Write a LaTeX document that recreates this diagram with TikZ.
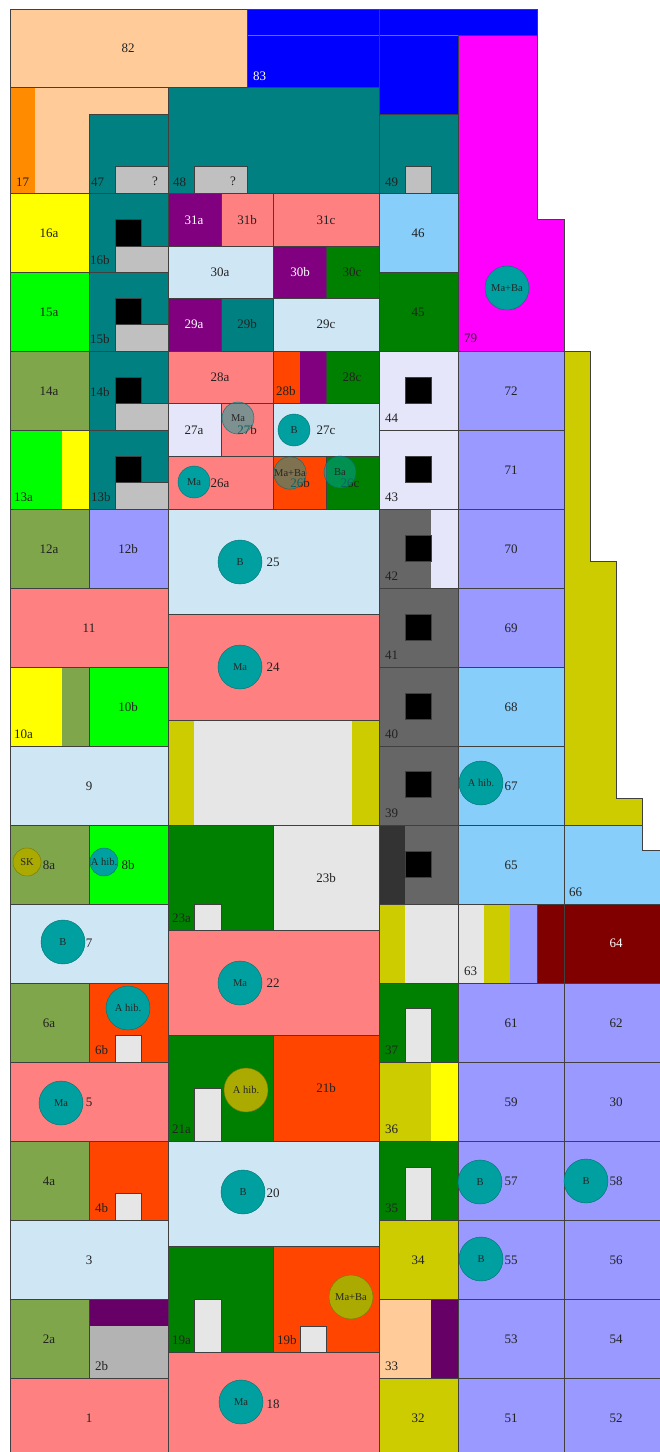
\documentclass[tikz,border=0pt]{standalone}
\usepackage{fontspec}
\setmainfont{Liberation Serif}
\definecolor{peach}{HTML}{FFCC99}
\definecolor{bblue}{HTML}{0000FF}
\definecolor{mag}{HTML}{FF00FF}
\definecolor{teal2}{HTML}{008080}
\definecolor{silv}{HTML}{C0C0C0}
\definecolor{orng}{HTML}{FF8C00}
\definecolor{yel}{HTML}{FFFF00}
\definecolor{lime2}{HTML}{00FF00}
\definecolor{oliv}{HTML}{7FA64A}
\definecolor{purp}{HTML}{800080}
\definecolor{salm}{HTML}{FF8080}
\definecolor{lblue}{HTML}{CFE6F4}
\definecolor{grn}{HTML}{008000}
\definecolor{lav}{HTML}{E6E6FA}
\definecolor{sky}{HTML}{87CEFA}
\definecolor{blav}{HTML}{9999FF}
\definecolor{oyel}{HTML}{CCCC00}
\definecolor{dgray}{HTML}{666666}
\definecolor{ddgray}{HTML}{333333}
\definecolor{lgray}{HTML}{E6E6E6}
\definecolor{ored}{HTML}{FF4500}
\definecolor{dred}{HTML}{800000}
\definecolor{purp2}{HTML}{660066}
\definecolor{mgray}{HTML}{B3B3B3}
\definecolor{cteal}{HTML}{00A0A0}
\definecolor{colv}{HTML}{AAAA00}
\definecolor{ln}{HTML}{404040}
\definecolor{txt}{HTML}{222222}
\newcommand\rr[5]{\filldraw[fill=#5,draw=ln,line width=.5pt] (#1,#2) rectangle (#3,#4);}
\newcommand\ff[5]{\fill[#5] (#1,#2) rectangle (#3,#4);}
\newcommand\ob[4]{\draw[ln,line width=.5pt] (#1,#2) rectangle (#3,#4);}
\begin{document}
\begin{tikzpicture}[x=1pt,y=-1pt,
  lbl/.style={font=\fontsize{13}{13}\selectfont, text=txt, inner sep=0pt},
  bl/.style={lbl, anchor=base west},
  wl/.style={text=white},
  circ/.style={circle, inner sep=0pt, fill=cteal, draw=cteal!70!black, line width=.4pt, text=black!85, font=\fontsize{10.5}{10.5}\selectfont},
  big/.style={minimum size=44pt},
  sml/.style={minimum size=32pt},
  tny/.style={minimum size=28pt},
  ov/.style={fill=colv, draw=colv!70!black},
  half/.style={fill opacity=.5, text opacity=1}
]
\useasboundingbox (0,0) rectangle (660,1452);
\fill[white] (0,0) rectangle (660,1452);

% ---------- top ----------
\rr{10}{9}{247}{87}{peach}
\fill[bblue] (247,9) -- (537,9) -- (537,35) -- (458,35) -- (458,114) -- (379,114) -- (379,87) -- (247,87) -- cycle;
\draw[bblue!60!white, line width=.5pt] (247,35) -- (458,35);
\draw[ln, line width=.5pt] (247,9) -- (537,9) -- (537,35) -- (458,35) -- (458,114) -- (379,114) -- (379,87) -- (247,87) -- cycle;
\draw[ln, line width=.5pt] (379,9) -- (379,87);
\filldraw[fill=mag, draw=ln, line width=.5pt] (458,35) -- (537,35) -- (537,219) -- (564,219) -- (564,351) -- (458,351) -- cycle;
\ff{10}{87}{35}{193}{orng}
\fill[peach] (35,87) -- (168,87) -- (168,114) -- (89,114) -- (89,193) -- (35,193) -- cycle;
\draw[ln, line width=.5pt] (10,87) -- (168,87) -- (168,114) -- (89,114) -- (89,193) -- (10,193) -- cycle;
\rr{89}{114}{168}{193}{teal2}
\rr{115}{166}{168}{193}{silv}
\rr{168}{87}{379}{193}{teal2}
\rr{194}{166}{247}{193}{silv}
\rr{379}{114}{458}{193}{teal2}
\rr{405}{166}{431}{193}{silv}

% ---------- rows 193-351 ----------
\rr{10}{193}{89}{272}{yel}
\rr{89}{193}{168}{272}{teal2}
\rr{115}{219}{141}{246}{black}
\rr{115}{246}{168}{272}{silv}
\rr{168}{193}{221}{246}{purp}
\rr{221}{193}{273}{246}{salm}
\rr{273}{193}{379}{246}{salm}
\rr{168}{246}{273}{298}{lblue}
\rr{273}{246}{326}{298}{purp}
\rr{326}{246}{379}{298}{grn}
\rr{379}{193}{458}{272}{sky}
\rr{10}{272}{89}{351}{lime2}
\rr{89}{272}{168}{351}{teal2}
\rr{115}{298}{141}{324}{black}
\rr{115}{324}{168}{351}{silv}
\rr{168}{298}{221}{351}{purp}
\rr{221}{298}{273}{351}{teal2}
\rr{273}{298}{379}{351}{lblue}
\rr{379}{272}{458}{351}{grn}

% ---------- rows 351-509 ----------
\rr{10}{351}{89}{430}{oliv}
\rr{89}{351}{168}{430}{teal2}
\rr{115}{377}{141}{403}{black}
\rr{115}{403}{168}{430}{silv}
\rr{168}{351}{273}{403}{salm}
\ff{273}{351}{300}{403}{ored}
\ff{300}{351}{326}{403}{purp}
\ob{273}{351}{326}{403}
\rr{326}{351}{379}{403}{grn}
\rr{168}{403}{221}{456}{lav}
\rr{221}{403}{273}{456}{salm}
\rr{273}{403}{379}{456}{lblue}
\rr{379}{351}{458}{430}{lav}
\rr{405}{377}{431}{403}{black}
\rr{458}{351}{564}{430}{blav}
\filldraw[fill=oyel, draw=ln, line width=.5pt] (564,351) -- (590,351) -- (590,561) -- (616,561) -- (616,798) -- (642,798) -- (642,825) -- (564,825) -- cycle;
\ff{10}{430}{62}{509}{lime2}
\ff{62}{430}{89}{509}{yel}
\ob{10}{430}{89}{509}
\rr{89}{430}{168}{509}{teal2}
\rr{115}{456}{141}{482}{black}
\rr{115}{482}{168}{509}{silv}
\rr{168}{456}{273}{509}{salm}
\rr{273}{456}{326}{509}{ored}
\rr{326}{456}{379}{509}{grn}
\rr{379}{430}{458}{509}{lav}
\rr{405}{456}{431}{482}{black}
\rr{458}{430}{564}{509}{blav}

% ---------- rows 509-825 ----------
\rr{10}{509}{89}{588}{oliv}
\rr{89}{509}{168}{588}{blav}
\rr{168}{509}{379}{614}{lblue}
\ff{379}{509}{431}{588}{dgray}
\ff{431}{509}{458}{588}{lav}
\ob{379}{509}{458}{588}
\rr{405}{535}{431}{561}{black}
\rr{458}{509}{564}{588}{blav}
\rr{10}{588}{168}{667}{salm}
\rr{168}{614}{379}{720}{salm}
\rr{379}{588}{458}{667}{dgray}
\rr{405}{614}{431}{640}{black}
\rr{458}{588}{564}{667}{blav}
\ff{10}{667}{62}{746}{yel}
\ff{62}{667}{89}{746}{oliv}
\ob{10}{667}{89}{746}
\rr{89}{667}{168}{746}{lime2}
\ff{168}{720}{194}{825}{oyel}
\ff{194}{720}{352}{825}{lgray}
\ff{352}{720}{379}{825}{oyel}
\ob{168}{720}{379}{825}
\rr{379}{667}{458}{746}{dgray}
\rr{405}{693}{431}{719}{black}
\rr{458}{667}{564}{746}{sky}
\rr{10}{746}{168}{825}{lblue}
\rr{379}{746}{458}{825}{dgray}
\rr{405}{771}{431}{797}{black}
\rr{458}{746}{564}{825}{sky}

% ---------- rows 825-1062 ----------
\rr{10}{825}{89}{904}{oliv}
\rr{89}{825}{168}{904}{lime2}
\rr{168}{825}{273}{930}{grn}
\rr{194}{904}{221}{930}{lgray}
\rr{273}{825}{379}{930}{lgray}
\ff{379}{825}{405}{904}{ddgray}
\ff{405}{825}{458}{904}{dgray}
\ob{379}{825}{458}{904}
\rr{405}{851}{431}{877}{black}
\rr{458}{825}{564}{904}{sky}
\filldraw[fill=sky, draw=ln, line width=.5pt] (564,825) -- (642,825) -- (642,850) -- (670,850) -- (670,904) -- (564,904) -- cycle;
\rr{10}{904}{168}{983}{lblue}
\rr{168}{930}{379}{1035}{salm}
\ff{379}{904}{405}{983}{oyel}
\ff{405}{904}{458}{983}{lgray}
\ob{379}{904}{458}{983}
\ff{458}{904}{484}{983}{lgray}
\ff{484}{904}{510}{983}{oyel}
\ff{510}{904}{537}{983}{blav}
\ob{458}{904}{537}{983}
\rr{537}{904}{564}{983}{dred}
\rr{564}{904}{670}{983}{dred}
\rr{10}{983}{89}{1062}{oliv}
\rr{89}{983}{168}{1062}{ored}
\rr{115}{1035}{141}{1062}{lgray}
\rr{379}{983}{458}{1062}{grn}
\rr{405}{1008}{431}{1062}{lgray}
\rr{458}{983}{564}{1062}{blav}
\rr{564}{983}{670}{1062}{blav}

% ---------- rows 1035-1460 ----------
\rr{168}{1035}{273}{1141}{grn}
\rr{194}{1088}{221}{1141}{lgray}
\rr{273}{1035}{379}{1141}{ored}
\rr{10}{1062}{168}{1141}{salm}
\ff{379}{1062}{431}{1141}{oyel}
\ff{431}{1062}{458}{1141}{yel}
\ob{379}{1062}{458}{1141}
\rr{458}{1062}{564}{1141}{blav}
\rr{564}{1062}{670}{1141}{blav}
\rr{10}{1141}{89}{1220}{oliv}
\rr{89}{1141}{168}{1220}{ored}
\rr{115}{1193}{141}{1220}{lgray}
\rr{168}{1141}{379}{1246}{lblue}
\rr{379}{1141}{458}{1220}{grn}
\rr{405}{1167}{431}{1220}{lgray}
\rr{458}{1141}{564}{1220}{blav}
\rr{564}{1141}{670}{1220}{blav}
\rr{10}{1220}{168}{1299}{lblue}
\rr{379}{1220}{458}{1299}{oyel}
\rr{458}{1220}{564}{1299}{blav}
\rr{564}{1220}{670}{1299}{blav}
\rr{168}{1246}{273}{1352}{grn}
\rr{194}{1299}{221}{1352}{lgray}
\rr{273}{1246}{379}{1352}{ored}
\rr{300}{1326}{326}{1352}{lgray}
\rr{10}{1299}{89}{1378}{oliv}
\ff{89}{1299}{168}{1326}{purp2}
\ff{89}{1326}{168}{1378}{mgray}
\ob{89}{1299}{168}{1378}
\ff{379}{1299}{431}{1378}{peach}
\ff{431}{1299}{458}{1378}{purp2}
\ob{379}{1299}{458}{1378}
\rr{458}{1299}{564}{1378}{blav}
\rr{564}{1299}{670}{1378}{blav}
\rr{10}{1378}{168}{1460}{salm}
\rr{168}{1352}{379}{1460}{salm}
\rr{379}{1378}{458}{1460}{oyel}
\rr{458}{1378}{564}{1460}{blav}
\rr{564}{1378}{670}{1460}{blav}

% ---------- labels ----------
\node[lbl] (n82) at (128,48) {82};
\node[bl,wl] (n83) at (253,80) {83};
\node[bl] (n79) at (464,342) {79};
\node[bl] (n17) at (16,186) {17};
\node[bl] (n47) at (91,186) {47};
\node[lbl] (q47) at (155,181) {?};
\node[bl] (n48) at (173,186) {48};
\node[lbl] (q48) at (233,181) {?};
\node[bl] (n49) at (385,186) {49};
\node[lbl] (n16a) at (49,233) {16a};
\node[bl] (n16b) at (90,264) {16b};
\node[lbl,wl] (n31a) at (194,220) {31a};
\node[lbl] (n31b) at (247,220) {31b};
\node[lbl] (n31c) at (326,220) {31c};
\node[lbl] (n30a) at (220,272) {30a};
\node[lbl,wl] (n30b) at (300,272) {30b};
\node[lbl] (n30c) at (352,272) {30c};
\node[lbl] (n46) at (418,233) {46};
\node[lbl] (n15a) at (49,312) {15a};
\node[bl] (n15b) at (90,343) {15b};
\node[lbl,wl] (n29a) at (194,324) {29a};
\node[lbl] (n29b) at (247,324) {29b};
\node[lbl] (n29c) at (326,324) {29c};
\node[lbl] (n45) at (418,312) {45};
\node[lbl] (n14a) at (49,391) {14a};
\node[bl] (n14b) at (90,396) {14b};
\node[lbl] (n28a) at (220,377) {28a};
\node[bl] (n28b) at (276,395) {28b};
\node[lbl] (n28c) at (352,377) {28c};
\node[lbl] (n27a) at (194,430) {27a};
\node[lbl] (n27b) at (247,430) {27b};
\node[lbl] (n27c) at (326,430) {27c};
\node[bl] (n44) at (385,422) {44};
\node[lbl] (n72) at (511,391) {72};
\node[bl] (n13a) at (14,501) {13a};
\node[bl] (n13b) at (91,501) {13b};
\node[lbl] (n26a) at (220,483) {26a};
\node[lbl] (n26b) at (300,483) {26b};
\node[lbl] (n26c) at (350,483) {26c};
\node[bl] (n43) at (385,501) {43};
\node[lbl] (n71) at (511,470) {71};
\node[lbl] (n12a) at (49,549) {12a};
\node[lbl] (n12b) at (128,549) {12b};
\node[lbl] (n25) at (273,562) {25};
\node[bl] (n42) at (385,580) {42};
\node[lbl] (n70) at (511,549) {70};
\node[lbl] (n11) at (89,628) {11};
\node[lbl] (n24) at (273,667) {24};
\node[bl] (n41) at (385,659) {41};
\node[lbl] (n69) at (511,628) {69};
\node[bl] (n10a) at (14,738) {10a};
\node[lbl] (n10b) at (128,707) {10b};
\node[bl] (n40) at (385,738) {40};
\node[lbl] (n68) at (511,707) {68};
\node[lbl] (n9) at (89,786) {9};
\node[bl] (n39) at (385,817) {39};
\node[lbl] (n67) at (511,786) {67};
\node[lbl] (n8a) at (49,865) {8a};
\node[lbl] (n8b) at (128,865) {8b};
\node[bl] (n23a) at (172,922) {23a};
\node[lbl] (n23b) at (326,878) {23b};
\node[lbl] (n65) at (511,865) {65};
\node[bl] (n66) at (569,896) {66};
\node[lbl] (n7) at (89,943) {7};
\node[lbl] (n22) at (273,983) {22};
\node[bl] (n63) at (464,975) {63};
\node[lbl,wl] (n64) at (616,943) {64};
\node[lbl] (n6a) at (49,1023) {6a};
\node[bl] (n6b) at (95,1054) {6b};
\node[bl] (n37) at (385,1054) {37};
\node[lbl] (n61) at (511,1023) {61};
\node[lbl] (n62) at (616,1023) {62};
\node[bl] (n21a) at (172,1133) {21a};
\node[lbl] (n21b) at (326,1088) {21b};
\node[lbl] (n5) at (89,1102) {5};
\node[bl] (n36) at (385,1133) {36};
\node[lbl] (n59) at (511,1102) {59};
\node[lbl] (n30) at (616,1102) {30};
\node[lbl] (n4a) at (49,1181) {4a};
\node[bl] (n4b) at (95,1212) {4b};
\node[lbl] (n20) at (273,1193) {20};
\node[bl] (n35) at (385,1212) {35};
\node[lbl] (n57) at (511,1181) {57};
\node[lbl] (n58) at (616,1181) {58};
\node[lbl] (n3) at (89,1260) {3};
\node[lbl] (n34) at (418,1260) {34};
\node[lbl] (n55) at (511,1260) {55};
\node[lbl] (n56) at (616,1260) {56};
\node[bl] (n19a) at (172,1344) {19a};
\node[bl] (n19b) at (277,1344) {19b};
\node[lbl] (n2a) at (49,1339) {2a};
\node[bl] (n2b) at (95,1370) {2b};
\node[bl] (n33) at (385,1370) {33};
\node[lbl] (n53) at (511,1339) {53};
\node[lbl] (n54) at (616,1339) {54};
\node[lbl] (n1) at (89,1418) {1};
\node[lbl] (n18) at (273,1404) {18};
\node[lbl] (n32) at (418,1418) {32};
\node[lbl] (n51) at (511,1418) {51};
\node[lbl] (n52) at (616,1418) {52};

% ---------- circles ----------
\node[circ,big] (c79) at (507,288) {Ma+Ba};
\node[circ,sml,half] (c27b) at (238,418) {Ma};
\node[circ,sml] (c27c) at (294,430) {B};
\node[circ,sml] (c26a) at (194,482) {Ma};
\node[circ,sml,half] (c26b) at (290,473) {Ma+Ba};
\node[circ,sml,half] (c26c) at (340,472) {Ba};
\node[circ,big] (c25) at (240,562) {B};
\node[circ,big] (c24) at (240,667) {Ma};
\node[circ,big] (c67) at (481,783) {A hib.};
\node[circ,tny,ov] (c8a) at (27,862) {SK};
\node[circ,tny] (c8b) at (104,862) {A hib.};
\node[circ,big] (c7) at (63,942) {B};
\node[circ,big] (c22) at (240,983) {Ma};
\node[circ,big] (c6b) at (128,1008) {A hib.};
\node[circ,big,ov] (c21a) at (246,1090) {A hib.};
\node[circ,big] (c5) at (61,1103) {Ma};
\node[circ,big] (c20) at (243,1192) {B};
\node[circ,big] (c57) at (480,1182) {B};
\node[circ,big] (c58) at (586,1181) {B};
\node[circ,big] (c55) at (481,1259) {B};
\node[circ,big,ov] (c19b) at (351,1297) {Ma+Ba};
\node[circ,big] (c18) at (241,1402) {Ma};
\end{tikzpicture}
\end{document}
